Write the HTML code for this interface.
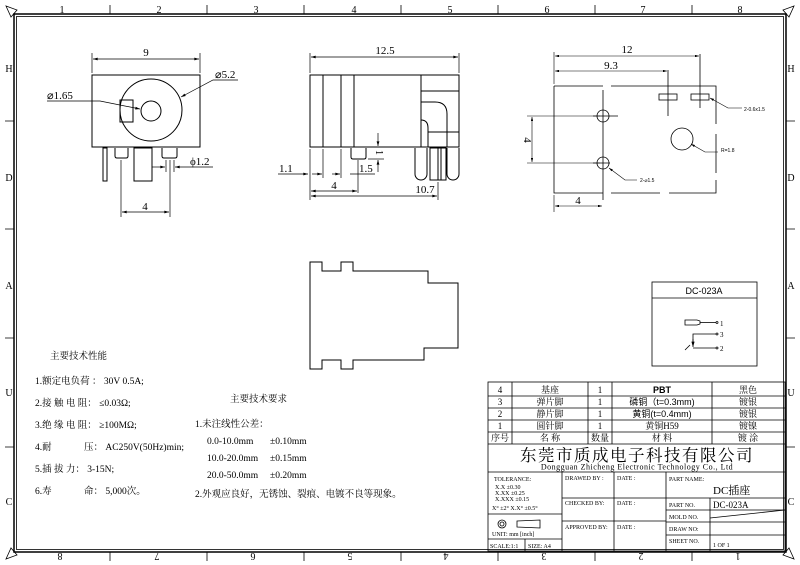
<!DOCTYPE html>
<html><head><meta charset="utf-8"><style>
html,body{margin:0;padding:0;background:#fff}
svg{display:block}
text{font-family:"Liberation Serif","Noto Serif CJK SC",serif;fill:#000}
.s{font-family:"Liberation Sans","Noto Sans CJK SC",sans-serif}
</style></head><body>
<svg width="800" height="565" viewBox="0 0 800 565" xmlns="http://www.w3.org/2000/svg">
<defs>
<marker id="a" viewBox="0 0 10 6" refX="10" refY="3" markerWidth="8" markerHeight="4" orient="auto-start-reverse"><path d="M0,0L10,3L0,6z" fill="#000"/></marker>
</defs>
<g fill="none" stroke="#000">
<rect x="14" y="14" width="772" height="538" stroke-width="1.5"/>
<rect x="16.5" y="16.5" width="767" height="533" stroke-width="0.8"/>
<g stroke-width="0.8">
<path d="M110,5V14M207,5V14M304,5V14M401,5V14M498,5V14M595,5V14M692,5V14"/>
<path d="M110,552V561M207,552V561M304,552V561M401,552V561M498,552V561M595,552V561M692,552V561"/>
<path d="M5,121H14M5,229H14M5,338H14M5,447H14"/>
<path d="M786,121H795M786,229H795M786,338H795M786,447H795"/>
<path d="M6,6L17,10L11,17Z"/><path d="M794,6L783,10L789,17Z"/>
<path d="M6,559L17,555L11,548Z"/><path d="M794,559L783,555L789,548Z"/>
</g>
</g>
<g class="s" font-size="10" text-anchor="middle">
<text x="62" y="13">1</text><text x="159" y="13">2</text><text x="256" y="13">3</text><text x="354" y="13">4</text><text x="450" y="13">5</text><text x="547" y="13">6</text><text x="643" y="13">7</text><text x="740" y="13">8</text>
<g transform="rotate(180 400 557)">
<text x="62" y="561">1</text><text x="159" y="561">2</text><text x="256" y="561">3</text><text x="354" y="561">4</text><text x="450" y="561">5</text><text x="547" y="561">6</text><text x="643" y="561">7</text><text x="740" y="561">8</text>
</g>
<text x="9" y="72">H</text><text x="9" y="181">D</text><text x="9" y="289">A</text><text x="9" y="396">U</text><text x="9" y="505">C</text>
<text x="791" y="72">H</text><text x="791" y="181">D</text><text x="791" y="289">A</text><text x="791" y="396">U</text><text x="791" y="505">C</text>
</g>

<g fill="none" stroke="#000" stroke-width="1">
<rect x="92" y="75" width="108" height="72"/>
<circle cx="151" cy="110" r="31"/>
<circle cx="151" cy="111" r="10"/>
<rect x="120" y="100" width="13" height="22"/>
<rect x="103" y="148" width="4" height="33"/>
<path d="M115,148V156Q115,158 117,158H126Q128,158 128,156V148"/>
<rect x="134" y="148" width="18" height="33"/>
<path d="M162,148V156Q162,158 164,158H175Q177,158 177,156V148"/>
<g stroke-width="0.7">
<path d="M92,73V53M200,73V53"/>
<path d="M93,59H199" marker-start="url(#a)" marker-end="url(#a)"/>
<path d="M47,101H100L140,109" marker-end="url(#a)"/>
<path d="M238,80H213L181,97" marker-end="url(#a)"/>
<path d="M152,167H165" marker-end="url(#a)"/>
<path d="M213,167H175" marker-end="url(#a)"/>
<path d="M166,160V172M174,160V172"/>
<path d="M121,160V217M170,160V217"/>
<path d="M122,212H169" marker-start="url(#a)" marker-end="url(#a)"/>
</g>
</g>
<text x="146" y="56" font-size="11" text-anchor="middle">9</text>
<text x="47" y="99" font-size="11">⌀1.65</text>
<text x="215" y="78" font-size="11">⌀5.2</text>
<text x="190" y="165" font-size="11">ϕ1.2</text>
<text x="145" y="210" font-size="11" text-anchor="middle">4</text>

<g fill="none" stroke="#000" stroke-width="1">
<rect x="310" y="75" width="149" height="72"/>
<path d="M323,75V147M341,75V147M354,75V147M421,75V147"/>
<path d="M421,91H459"/>
<path d="M421,102H435Q447,102 447,114V147"/>
<path d="M421,120Q428,120 428,128V147"/>
<path d="M428,132H459"/>
<path d="M351,148V157Q351,159 353,159H364Q366,159 366,157V148"/>
<path d="M415,148V174A6,6 0 0 0 427,174V148"/>
<rect x="430" y="148" width="16" height="32"/>
<path d="M438,148V180M441,148V180"/>
<path d="M447,148V174A6,6 0 0 0 459,174V148"/>
<g stroke-width="0.7">
<path d="M310,73V53M459,73V53"/>
<path d="M311,57H458" marker-start="url(#a)" marker-end="url(#a)"/>
<path d="M310,149V200M323,149V178M341,149V178M358,160V193M438,182V200"/>
<path d="M278,174H308" marker-end="url(#a)"/>
<path d="M312,174H322" marker-end="url(#a)"/>
<path d="M332,174H340" marker-end="url(#a)"/>
<path d="M350,174H375"/>
<path d="M378,133V146" marker-end="url(#a)"/>
<path d="M378,172V160" marker-end="url(#a)"/>
<path d="M368,159H384"/>
<path d="M311,191H357" marker-start="url(#a)" marker-end="url(#a)"/>
<path d="M311,196H437" marker-start="url(#a)" marker-end="url(#a)"/>
</g>
</g>
<text x="385" y="54" font-size="11" text-anchor="middle">12.5</text>
<text x="279" y="172" font-size="11">1.1</text>
<text x="359" y="172" font-size="11">1.5</text>
<text x="0" y="0" font-size="10" transform="translate(376,150) rotate(90)">1</text>
<text x="334" y="189" font-size="11" text-anchor="middle">4</text>
<text x="425" y="193" font-size="11" text-anchor="middle">10.7</text>

<g fill="none" stroke="#000" stroke-width="0.8">
<path d="M554,86H603M611,86H716V124M716,134V173M716,180V193H669M660,193H611M603,193H554V86" />
<rect x="659" y="94" width="18" height="6"/>
<rect x="691" y="94" width="18" height="6"/>
<circle cx="603" cy="116" r="6"/><circle cx="603" cy="163" r="6"/>
<circle cx="682" cy="139" r="11"/>
<path d="M603,90V200M593,116H618M593,163H610M668,70V116M700,54V108"/>
<g stroke-width="0.6">
<path d="M554,84V52M554,195V212"/>
<path d="M555,56H699" marker-start="url(#a)" marker-end="url(#a)"/>
<path d="M555,71H667" marker-start="url(#a)" marker-end="url(#a)"/>
<path d="M527,116H600M527,163H600"/>
<path d="M532,117V162" marker-start="url(#a)" marker-end="url(#a)"/>
<path d="M555,206H602" marker-start="url(#a)" marker-end="url(#a)"/>
<path d="M742,108H728L710,98" marker-end="url(#a)"/>
<path d="M718,152H705L691,144" marker-end="url(#a)"/>
<path d="M637,180H625L609,168" marker-end="url(#a)"/>
</g>
</g>
<text x="627" y="53" font-size="11" text-anchor="middle">12</text>
<text x="611" y="69" font-size="11" text-anchor="middle">9.3</text>
<text x="0" y="0" font-size="11" transform="translate(524,140) rotate(90)" text-anchor="middle">4</text>
<text x="578" y="204" font-size="11" text-anchor="middle">4</text>
<text x="744" y="111" font-size="5" class="s">2-0.6x1.5</text>
<text x="721" y="152" font-size="5" class="s">R=1.8</text>
<text x="640" y="182" font-size="5" class="s">2-⌀1.5</text>

<path d="M310,262H322V271H341V262H353V271H428V283H458V348H424V360H353V369H341V360H322V369H310Z" fill="none" stroke="#000" stroke-width="1"/>

<g fill="none" stroke="#000" stroke-width="0.8">
<rect x="652" y="282" width="105" height="84"/>
<path d="M652,298H757"/>
<path d="M685,320H697L700,321V324L697,325H685Z"/>
<path d="M700,322.5H716"/>
<path d="M693,346V334H716M693,348H716M685,350L690,345"/>
<path d="M693,339V347" marker-end="url(#a)"/>
<circle cx="717" cy="322.5" r="1"/><circle cx="717" cy="334" r="1"/><circle cx="717" cy="348" r="1"/>
</g>
<text x="704" y="294" font-size="9" class="s" text-anchor="middle">DC-023A</text>
<text x="720" y="326" font-size="7">1</text><text x="720" y="337" font-size="7">3</text><text x="720" y="351" font-size="7">2</text>

<g font-size="9.5">
<text x="50" y="359">主要技术性能</text>
<text x="35" y="384">1.额定电负荷 ： 30V 0.5A;</text>
<text x="35" y="406">2.接 触 电 阻： ≤0.03Ω;</text>
<text x="35" y="428">3.绝 缘 电 阻： ≥100MΩ;</text>
<text x="35" y="450">4.耐</text><text x="84" y="450">压： AC250V(50Hz)min;</text>
<text x="35" y="472">5.插  拔   力： 3-15N;</text>
<text x="35" y="494">6.寿</text><text x="84" y="494">命： 5,000次。</text>
<text x="230" y="402">主要技术要求</text>
<text x="195" y="427">1.未注线性公差：</text>
<text x="207" y="444">0.0-10.0mm</text><text x="270" y="444">±0.10mm</text>
<text x="207" y="461">10.0-20.0mm</text><text x="270" y="461">±0.15mm</text>
<text x="207" y="478">20.0-50.0mm</text><text x="270" y="478">±0.20mm</text>
<text x="195" y="497">2.外观应良好，无锈蚀、裂痕、电镀不良等现象。</text>
</g>

<g fill="none" stroke="#000" stroke-width="0.8">
<rect x="488" y="382" width="297" height="169"/>
<path d="M488,396H785M488,408H785M488,420H785M488,432H785M488,444H785M488,472H785"/>
<path d="M512,382V444M588,382V444M612,382V444M712,382V444"/>
<path d="M562,472V551M614,472V551M666,472V551M710,498V551"/>
<path d="M488,514H562M488,539H562M525,539V551"/>
<path d="M562,498H666M562,521H666"/>
<path d="M666,498H785M666,510H785M666,522H785M666,535H785"/>
<path d="M710,518L785,510"/>
<circle cx="502" cy="524" r="4"/><circle cx="502" cy="524" r="2"/>
<path d="M517,521L540,520V528L517,527Z"/>
</g>
<g font-size="9" text-anchor="middle">
<text x="500" y="393">4</text><text x="550" y="393">基座</text><text x="600" y="393">1</text><text x="662" y="393" class="s" font-weight="bold">PBT</text><text x="748" y="393">黑色</text>
<text x="500" y="405">3</text><text x="550" y="405">弹片脚</text><text x="600" y="405">1</text><text x="662" y="405" class="s">磷铜（t=0.3mm)</text><text x="748" y="405">镀银</text>
<text x="500" y="417">2</text><text x="550" y="417">静片脚</text><text x="600" y="417">1</text><text x="662" y="417" class="s">黄铜(t=0.4mm)</text><text x="748" y="417">镀银</text>
<text x="500" y="429">1</text><text x="550" y="429">圆针脚</text><text x="600" y="429">1</text><text x="662" y="429">黄铜H59</text><text x="748" y="429">镀镍</text>
<text x="500" y="441">序号</text><text x="550" y="441">名  称</text><text x="600" y="441">数量</text><text x="662" y="441">材  料</text><text x="748" y="441">镀  涂</text>
<text x="637" y="461" font-size="16.5" letter-spacing="1.5">东莞市质成电子科技有限公司</text>
<text x="637" y="469.5" font-size="8" letter-spacing="0.5">Dongguan Zhicheng Electronic Technology Co., Ltd</text>
</g>
<g class="s" font-size="6">
<text x="494" y="481">TOLERANCE:</text>
<text x="495" y="489">X.X   ±0.30</text>
<text x="495" y="495">X.XX  ±0.25</text>
<text x="495" y="501">X.XXX ±0.15</text>
<text x="492" y="510">X° ±2°    X.X° ±0.5°</text>
<text x="492" y="536">UNIT:  mm  [inch]</text>
<text x="490" y="548">SCALE:1:1</text><text x="528" y="548">SIZE: A4</text>
<text x="565" y="480">DRAWED BY :</text><text x="617" y="480">DATE :</text>
<text x="565" y="505">CHECKED  BY:</text><text x="617" y="505">DATE :</text>
<text x="565" y="529">APPROVED BY:</text><text x="617" y="529">DATE :</text>
<text x="669" y="481">PART NAME:</text>
<text x="669" y="507">PART NO.</text>
<text x="669" y="519">MOLD NO.</text>
<text x="669" y="531">DRAW NO:</text>
<text x="669" y="543">SHEET NO.</text>
</g>
<text x="713" y="494" font-size="11">DC插座</text>
<text x="713" y="508" font-size="9">DC-023A</text>
<text x="713" y="547" font-size="6">1 OF 1</text>
</svg>
</body></html>
